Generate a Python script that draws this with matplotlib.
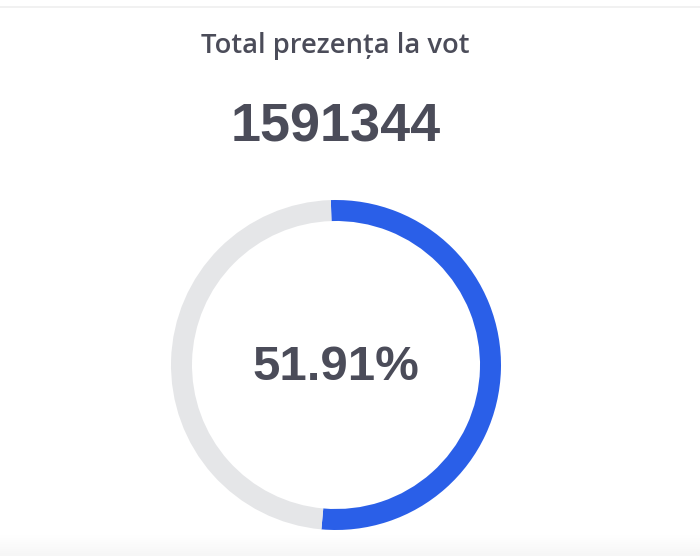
import numpy as np
import matplotlib
matplotlib.use("Agg")
from matplotlib import pyplot as plt

# data
title = "Total prezența la vot"
total_votes = 1591344
turnout_pct = 51.91
slices = [turnout_pct, 100 - turnout_pct]
slice_colors = ["#2a5fe8", "#e5e6e8"]

TEXT_COLOR = "#4b4c59"
W, H = 700, 556


def px(y: float) -> float:
    # image pixel row -> data y
    return H - y


fig = plt.figure(figsize=(7, 5.56), dpi=100)
ax = fig.add_axes([0, 0, 1, 1])

ax.pie(
    slices,
    colors=slice_colors,
    radius=165,
    center=(336, px(365)),
    startangle=91.8,
    counterclock=False,
    wedgeprops=dict(width=21, linewidth=0),
)
ax.set_xlim(0, W)
ax.set_ylim(0, H)
ax.set_aspect("equal")
ax.axis("off")

# thin top border and soft bottom shade
ax.axhline(px(7), color="#efefef", linewidth=1.2)
shade = np.linspace(0, 1, 50).reshape(-1, 1)
ax.imshow(
    shade,
    extent=[0, W, 0, px(535)],
    cmap=matplotlib.colors.LinearSegmentedColormap.from_list(
        "shade", ["#ffffff", "#f6f6f6"]
    ),
    origin="upper",
    aspect="auto",
    zorder=0,
)

ax.text(
    335, px(46), title,
    ha="center", va="center",
    fontsize=19.7, fontweight="semibold", family="Open Sans",
    color=TEXT_COLOR,
)
ax.text(
    336, px(128), str(total_votes),
    ha="center", va="center",
    fontsize=38.8, fontweight="bold", family="Liberation Sans",
    color=TEXT_COLOR,
)
ax.text(
    336, px(368), f"{turnout_pct:.2f}%",
    ha="center", va="center",
    fontsize=35.4, fontweight="bold", family="Liberation Sans",
    color=TEXT_COLOR,
)

fig.savefig("out.png", dpi=100)
